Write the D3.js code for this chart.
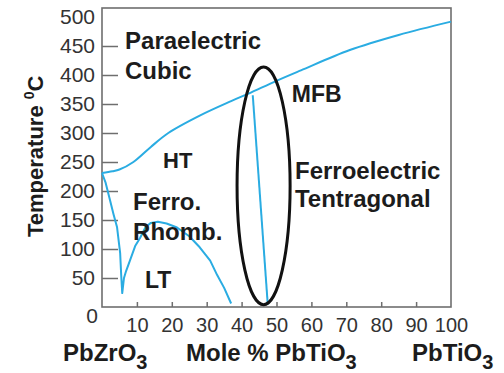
<!DOCTYPE html>
<html>
<head>
<meta charset="utf-8">
<script src="https://cdn.jsdelivr.net/npm/d3@7/dist/d3.min.js"></script>
<style>
  body { margin: 0; background: #fff; }
  svg { display: block; font-family: "Liberation Sans", Arial, Helvetica, sans-serif; }
</style>
</head>
<body>
<svg id="chart" width="504" height="373"></svg>
<script>
// Curie line: paraelectric cubic / ferroelectric boundary (mole % PbTiO3, temperature C)
const curieLine = [
    [0, 231], [3, 234], [5, 237], [9, 250], [14, 276], [19, 300], [28, 330],
    [37, 355], [42, 368], [50, 390], [57, 408], [71, 443], [85, 469], [100, 492]
];
// antiferro / rhombohedral HT / LT boundary (the V shape)
const rhombLine = [
    [0, 231], [1, 215], [2.3, 184], [3.3, 160], [4.3, 138], [5.2, 93], [5.5, 55],
    [5.8, 24], [6.3, 50], [6.9, 62], [8, 80], [9.5, 105], [10.9, 119], [12.5, 138],
    [14, 145], [16, 147], [18.5, 144], [21.5, 137], [25, 122], [28, 103], [31, 80],
    [33, 55], [35, 33], [37, 6]
];
// morphotropic phase boundary
const mpbLine = [[43.2, 365], [47.5, 4]];
// circled region (center x, center T, half width, half height)
const mfbEllipse = { cx: 46.3, cy: 209, rx: 7.6, ry: 205 };

const yTicks = [0, 50, 100, 150, 200, 250, 300, 350, 400, 450, 500];
const xTicks = [10, 20, 30, 40, 50, 60, 70, 80, 90, 100];

// region labels, placed in data units (mole %, T)
const regionLabels = [
    { text: "Paraelectric", x: 6.6, t: 445 },
    { text: "Cubic", x: 6.6, t: 393 },
    { text: "HT", x: 17.5, t: 240, size: 22 },
    { text: "Ferro.", x: 8.9, t: 167 },
    { text: "Rhomb.", x: 8.9, t: 116 },
    { text: "LT", x: 12.3, t: 33, size: 23 },
    { text: "MFB", x: 54.4, t: 353, size: 23 },
    { text: "Ferroelectric", x: 55.3, t: 221 },
    { text: "Tentragonal", x: 55.3, t: 172 }
];

const margin = { top: 8, right: 53, bottom: 66, left: 102 };
const svgWidth = 504, svgHeight = 373;
const width = svgWidth - margin.left - margin.right;
const height = svgHeight - margin.top - margin.bottom;

const svg = d3.select("#chart");
const g = svg.append("g")
    .attr("transform", `translate(${margin.left}, ${margin.top})`);

const x = d3.scaleLinear().domain([0, 100]).range([0, width]);
const y = d3.scaleLinear().domain([0, 500]).range([height, 9]);

const blue = "#2aace2";
const axisGrey = "#6e6e6e";
const textDark = "#1c1c1c";

// y axis: labels outside, ticks pointing into the plot
const yAxis = g.append("g")
    .classed("y-axis", true)
    .call(d3.axisLeft(y).tickValues(yTicks).tickSizeInner(-16).tickSizeOuter(0).tickPadding(7));
yAxis.select(".domain").remove();
yAxis.selectAll(".tick line")
    .attr("stroke", axisGrey)
    .attr("stroke-width", 1.5)
    .filter(d => d === 0 || d === 500).remove();
yAxis.selectAll(".tick text")
    .style("font-size", "21px")
    .attr("fill", "#333")
    .filter(d => d === 0)
    .attr("dy", "0.75em")
    .attr("x", -4);

// x axis
const xAxis = g.append("g")
    .classed("x-axis", true)
    .attr("transform", `translate(0, ${height})`)
    .call(d3.axisBottom(x).tickValues(xTicks).tickSizeInner(-5).tickSizeOuter(0).tickPadding(11));
xAxis.select(".domain").remove();
xAxis.selectAll(".tick line")
    .attr("stroke", axisGrey)
    .attr("stroke-width", 1.5)
    .filter(d => d === 100).remove();
xAxis.selectAll(".tick text")
    .style("font-size", "20px")
    .attr("fill", "#333");

// frame
g.append("rect")
    .attr("x", 0).attr("y", 0)
    .attr("width", width).attr("height", height)
    .attr("fill", "none")
    .attr("stroke", axisGrey)
    .attr("stroke-width", 1.6);

// phase boundaries
const smooth = d3.line()
    .x(d => x(d[0]))
    .y(d => y(d[1]))
    .curve(d3.curveCatmullRom.alpha(0.5));
const straight = d3.line()
    .x(d => x(d[0]))
    .y(d => y(d[1]));

g.append("path")
    .attr("d", smooth(curieLine))
    .attr("fill", "none").attr("stroke", blue).attr("stroke-width", 2);
g.append("path")
    .attr("d", straight(rhombLine))
    .attr("fill", "none").attr("stroke", blue).attr("stroke-width", 2)
    .attr("stroke-linejoin", "round");
g.append("path")
    .attr("d", straight(mpbLine))
    .attr("fill", "none").attr("stroke", blue).attr("stroke-width", 2);

// ellipse round the boundary
g.append("ellipse")
    .attr("cx", x(mfbEllipse.cx))
    .attr("cy", y(mfbEllipse.cy))
    .attr("rx", x(mfbEllipse.cx + mfbEllipse.rx) - x(mfbEllipse.cx))
    .attr("ry", y(mfbEllipse.cy - mfbEllipse.ry) - y(mfbEllipse.cy))
    .attr("fill", "none")
    .attr("stroke", "#111")
    .attr("stroke-width", 3);

// region labels
g.selectAll("text.region")
    .data(regionLabels)
    .enter()
    .append("text")
    .classed("region", true)
    .attr("x", d => x(d.x))
    .attr("y", d => y(d.t))
    .text(d => d.text)
    .style("font-size", d => (d.size || 24) + "px")
    .style("font-weight", "bold")
    .attr("fill", textDark);

// y axis title
const yTitle = svg.append("text")
    .attr("transform", `translate(43, 237) rotate(-90)`)
    .style("font-size", "22px")
    .style("font-weight", "bold")
    .attr("fill", textDark);
yTitle.append("tspan").text("Temperature ");
yTitle.append("tspan").text("0").style("font-size", "14px").attr("dy", -9);
yTitle.append("tspan").text("C").attr("dy", 9);

// bottom labels with subscripts
function formula(xPos, main) {
    const t = svg.append("text")
        .attr("x", xPos)
        .attr("y", 361)
        .style("font-size", "24px")
        .style("font-weight", "bold")
        .attr("fill", textDark);
    t.append("tspan").text(main);
    t.append("tspan").text("3").style("font-size", "20px").attr("dy", 8);
}
formula(63, "PbZrO");
formula(186, "Mole % PbTiO");
formula(412, "PbTiO");
</script>
</body>
</html>
